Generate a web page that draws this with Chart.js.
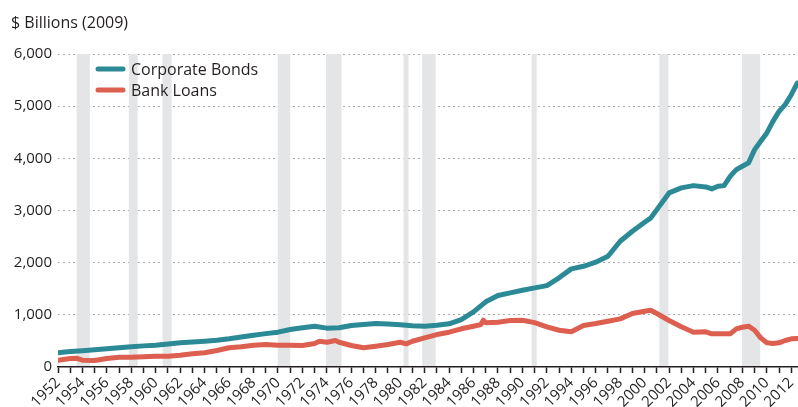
<!DOCTYPE html>
<html><head><meta charset="utf-8">
<script src="https://cdn.jsdelivr.net/npm/chart.js@4.4.1/dist/chart.umd.min.js"></script>
<style>html,body{margin:0;padding:0;background:#fff}#wrap{width:798px;height:407px;position:relative}</style>
</head><body><div id="wrap"><canvas id="c"></canvas></div>
<script>
const titleText = '$ Billions (2009)';
const seriesNames = ['Corporate Bonds', 'Bank Loans'];
const seriesColors = ['#2B8A95', '#DC5F4F'];

const bondYears = [1952,1953,1954,1955,1956,1957,1958,1959,1960,1961,1962,1963,1964,1965,1966,1967,1968,1969,1970,1971,1972,1973,1974,1975,1976,1977,1978,1979,1980,1981,1982,1983,1984,1985,1986,1987,1988,1989,1990,1991,1992,1993,1994,1995,1996,1997,1998,1999,2000,2000.5,2001,2002,2003,2004,2005,2005.5,2006,2006.5,2007,2007.5,2008,2008.5,2009,2009.5,2010,2010.5,2011,2011.5,2012,2012.5];
const bondValues = [275,295,312,330,352,368,387,405,418,440,463,478,494,512,540,575,609,640,668,718,751,782,745,751,795,815,833,825,808,790,782,800,827,910,1057,1249,1370,1421,1471,1517,1560,1709,1881,1931,2008,2123,2410,2602,2774,2858,3017,3337,3433,3477,3452,3414,3464,3477,3655,3783,3847,3912,4167,4326,4487,4709,4900,5029,5220,5444];

const loanYears = [1952,1953,1953.5,1954,1955,1956,1957,1958,1960,1961,1962,1963,1964,1965,1966,1967,1968,1969,1970,1971,1972,1973,1973.4,1974,1974.7,1975,1976,1977,1978,1979,1980,1980.5,1981,1982,1983,1984,1985,1986,1986.6,1986.8,1987,1988,1989,1990,1991,1992,1993,1994,1995,1996,1997,1998,1999,2000,2000.5,2001,2002,2003,2004,2005,2005.5,2006,2007,2007.5,2008,2008.5,2009,2009.5,2010,2010.5,2011,2011.5,2012,2012.5];
const loanValues = [130,163,169,130,125,163,188,188,207,207,226,253,272,316,368,387,418,431,418,418,412,450,494,475,508,475,412,368,398,431,475,444,494,559,622,667,732,782,814,897,847,858,891,897,850,770,705,674,795,833,877,923,1025,1069,1088,1025,891,770,667,674,636,636,636,732,762,782,705,559,464,450,464,508,540,545];

const recessionStarts = [1953.53,1957.8,1960.55,1969.98,1973.93,1980.27,1981.8,1990.75,2001.2,2007.97];
const recessionEnds   = [1954.6,1958.52,1961.3,1971.0,1975.2,1980.68,1982.9,1991.17,2001.94,2009.45];

const xTickYears = [1952,1953,1954,1955,1956,1957,1958,1959,1960,1961,1962,1963,1964,1965,1966,1967,1968,1969,1970,1971,1972,1973,1974,1975,1976,1977,1978,1979,1980,1981,1982,1983,1984,1985,1986,1987,1988,1989,1990,1991,1992,1993,1994,1995,1996,1997,1998,1999,2000,2001,2002,2003,2004,2005,2006,2007,2008,2009,2010,2011,2012];
const yTickValues = [0,1000,2000,3000,4000,5000,6000];

const FONT = '"Open Sans", "DejaVu Sans", sans-serif';
const TXT = '#231F20';

const bandsPlugin = {
  id: 'bands',
  beforeDatasetsDraw(chart) {
    const {ctx, chartArea, scales} = chart;
    ctx.save();
    ctx.fillStyle = '#E4E5E7';
    for (let i = 0; i < recessionStarts.length; i++) {
      const x1 = scales.x.getPixelForValue(recessionStarts[i]);
      const x2 = scales.x.getPixelForValue(recessionEnds[i]);
      ctx.fillRect(x1, chartArea.top, x2 - x1, chartArea.bottom - chartArea.top - 1);
    }
    ctx.restore();
  }
};

const overlayPlugin = {
  id: 'overlay',
  afterDraw(chart) {
    const ctx = chart.ctx;
    ctx.save();
    ctx.fillStyle = TXT;
    ctx.font = '16px ' + FONT;
    ctx.textAlign = 'left';
    ctx.textBaseline = 'alphabetic';
    ctx.fillText(titleText, 11, 28);
    const rows = [69, 90];
    chart.data.datasets.forEach((ds, i) => {
      ctx.strokeStyle = ds.borderColor;
      ctx.lineWidth = 5;
      ctx.lineCap = 'round';
      ctx.beginPath();
      ctx.moveTo(98, rows[i]);
      ctx.lineTo(123, rows[i]);
      ctx.stroke();
      ctx.fillStyle = TXT;
      ctx.textBaseline = 'middle';
      ctx.fillText(ds.label, 131, rows[i] + 1);
    });
    ctx.restore();
  }
};

new Chart(document.getElementById('c'), {
  type: 'line',
  data: {
    datasets: [
      { label: seriesNames[0], data: bondYears.map((x, i) => ({x, y: bondValues[i]})), borderColor: seriesColors[0] },
      { label: seriesNames[1], data: loanYears.map((x, i) => ({x, y: loanValues[i]})), borderColor: seriesColors[1] }
    ]
  },
  options: {
    responsive: true,
    maintainAspectRatio: false,
    animation: false,
    layout: { padding: { top: 54, right: 0, left: 0, bottom: 0 } },
    elements: {
      point: { radius: 0 },
      line: { borderWidth: 5, tension: 0, borderCapStyle: 'round', borderJoinStyle: 'round', fill: false }
    },
    plugins: { legend: { display: false }, tooltip: { enabled: false }, title: { display: false } },
    scales: {
      x: {
        type: 'linear',
        min: 1952,
        max: 2012.55,
        afterBuildTicks: s => { s.ticks = xTickYears.map(v => ({value: v})); },
        afterFit: s => { s.height = 40; s.paddingRight = 0; },
        grid: { drawOnChartArea: false, drawTicks: true, tickLength: 6, tickColor: TXT, tickWidth: 1.5 },
        border: { display: true, color: TXT, width: 1.5 },
        ticks: {
          autoSkip: false, maxRotation: 45, minRotation: 45, padding: 1,
          color: TXT, font: { family: FONT, size: 15 },
          callback: v => (v % 2 === 0 ? String(v) : '')
        }
      },
      y: {
        min: 0,
        max: 6000,
        afterBuildTicks: s => { s.ticks = yTickValues.map(v => ({value: v})); },
        afterFit: s => { s.width = 58; },
        grid: {
          drawTicks: false,
          lineWidth: 1,
          color: c => (c.tick && c.tick.value === 0 ? 'rgba(0,0,0,0)' : '#ABABAB')
        },
        border: { display: false, dash: [2, 3] },
        ticks: {
          padding: 6, color: TXT, font: { family: FONT, size: 15 },
          callback: v => v.toLocaleString('en-US')
        }
      }
    }
  },
  plugins: [bandsPlugin, overlayPlugin]
});
</script></body></html>
